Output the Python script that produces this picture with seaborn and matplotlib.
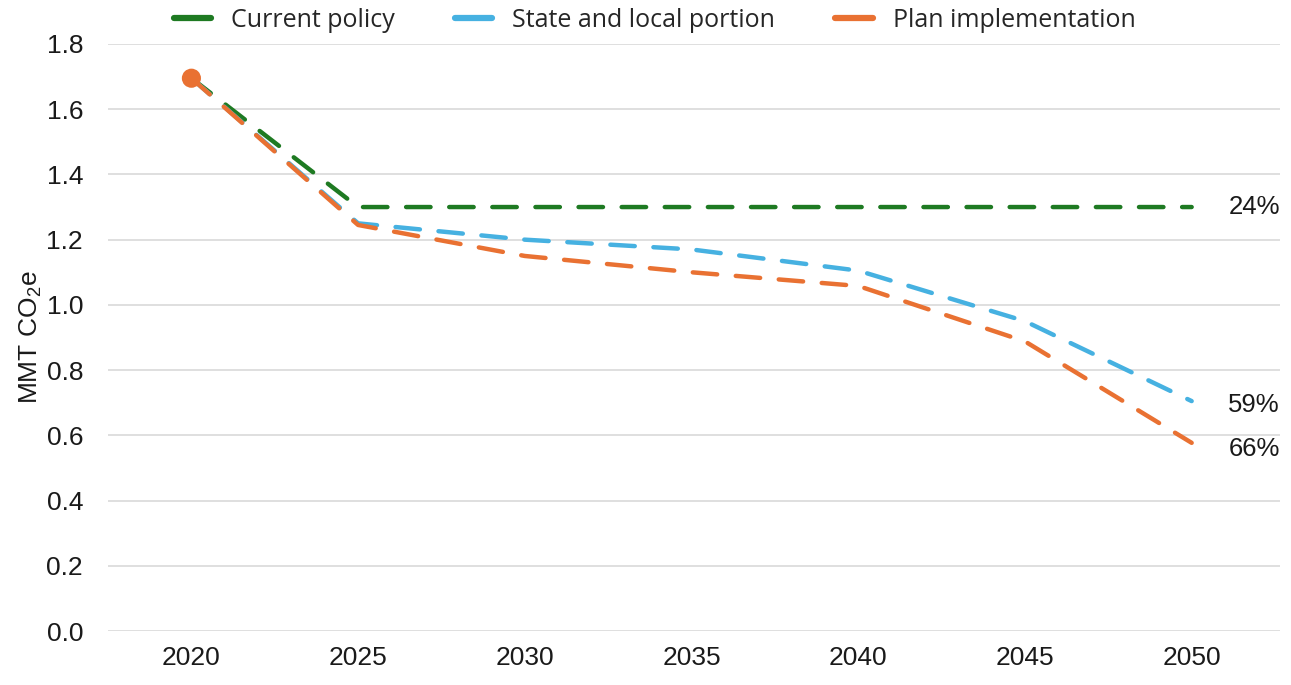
import matplotlib
matplotlib.use("Agg")
import matplotlib.pyplot as plt
from matplotlib.lines import Line2D
import seaborn as sns
import pandas as pd

# Emissions pathways, million metric tons CO2e
years = [2020, 2025, 2030, 2035, 2040, 2045, 2050]
current_policy = [1.695, 1.30, 1.30, 1.30, 1.30, 1.30, 1.30]
state_local = [1.695, 1.25, 1.20, 1.17, 1.105, 0.95, 0.705]
plan_impl = [1.695, 1.245, 1.15, 1.10, 1.058, 0.888, 0.577]
reductions = ["24%", "59%", "66%"]

series_names = ["Current policy", "State and local portion", "Plan implementation"]
series_values = [current_policy, state_local, plan_impl]
colors = ["#1E7A22", "#46B1E1", "#E97132"]

sns.set_theme(style="white")
plt.rcParams["font.family"] = ["Liberation Sans", "DejaVu Sans"]

fig = plt.figure(figsize=(12.91, 6.85), dpi=100)
ax = fig.add_axes([0.0837, 0.0788, 0.9078, 0.857])

pos = list(range(len(years)))
for name, vals, col in zip(series_names, series_values, colors):
    df = pd.DataFrame({"pos": pos, "value": vals})
    sns.lineplot(data=df, x="pos", y="value", ax=ax, color=col, lw=3.2)
    line = ax.lines[-1]
    line.set_dashes((5.5, 4.2))
    line.set_dash_capstyle("round")
    line.set_solid_capstyle("round")

# starting-point marker
sns.scatterplot(x=[pos[0]], y=[plan_impl[0]], ax=ax, color=colors[2], s=190,
                edgecolor="none", zorder=5)

# reduction labels at the end of each pathway
label_y = [current_policy[-1], state_local[-1] - 0.012, plan_impl[-1] - 0.02]
for txt, yv in zip(reductions, label_y):
    ax.text(pos[-1] + 0.22, yv, txt, ha="left", va="center", fontsize=18.5,
            color="#1a1a1a")

ax.set_xlim(-0.5, 6.53)
ax.set_ylim(0, 1.8)
ax.set_yticks([0.0, 0.2, 0.4, 0.6, 0.8, 1.0, 1.2, 1.4, 1.6, 1.8])
ax.set_yticklabels([f"{v:.1f}" for v in ax.get_yticks()], fontsize=19, color="#1a1a1a")
ax.set_xticks(pos)
ax.set_xticklabels([str(y) for y in years], fontsize=19, color="#1a1a1a")
ax.tick_params(axis="both", length=0)
ax.tick_params(axis="y", pad=18)
ax.tick_params(axis="x", pad=11)
ax.set_xlabel("")
ax.set_ylabel(r"MMT CO$_\mathregular{2}$e", fontsize=19, color="#1a1a1a", labelpad=2)

ax.grid(axis="y", color="#D9D9D9", lw=1.2)
ax.grid(axis="x", visible=False)
for s in ax.spines.values():
    s.set_visible(False)

handles = [Line2D([0], [0], color=c, lw=4.5, solid_capstyle="round") for c in colors]
fig.legend(handles, series_names, loc="center", bbox_to_anchor=(0.507, 0.970),
           ncol=3, frameon=False, prop={"family": "Open Sans", "size": 18},
           handlelength=1.5, handletextpad=0.8, columnspacing=2.4)

fig.savefig("out.png", dpi=100, facecolor="white")
